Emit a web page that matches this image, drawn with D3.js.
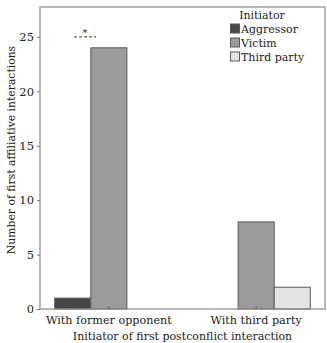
<!DOCTYPE html>
<html>
<head>
<meta charset="utf-8">
<script src="https://cdn.jsdelivr.net/npm/d3@7"></script>
<style>
  body { margin: 0; background: #fff; }
  text { font-family: "DejaVu Serif", serif; fill: #222; }
</style>
</head>
<body>
<svg id="chart"></svg>
<script>
const groups = ['With former opponent', 'With third party'];
const initiators = ['Aggressor', 'Victim', 'Third party'];
const aggressor = [1, 0];
const victim = [24, 8];
const thirdParty = [0, 2];
const yTicks = [0, 5, 10, 15, 20, 25];

const colors = { 'Aggressor': '#474747', 'Victim': '#9b9b9b', 'Third party': '#e3e3e3' };
const series = { 'Aggressor': aggressor, 'Victim': victim, 'Third party': thirdParty };

const width = 327, height = 343;
const margin = { top: 7, right: 2, bottom: 34, left: 40 };
const font = '"DejaVu Serif", serif';

const svg = d3.select('#chart').attr('width', width).attr('height', height);

const x = d3.scaleBand()
  .domain(groups)
  .range([margin.left, width - margin.right])
  .paddingInner(0.265)
  .paddingOuter(0.1);

const xSub = d3.scaleBand()
  .domain(initiators)
  .range([0, x.bandwidth()]);

const y = d3.scaleLinear()
  .domain([0, 27.75])
  .range([height - margin.bottom, margin.top]);

// bars
const rows = [];
groups.forEach((g, i) => {
  initiators.forEach(k => {
    if (series[k][i] > 0) rows.push({ group: g, key: k, value: series[k][i] });
  });
});

svg.append('g')
  .selectAll('rect')
  .data(rows)
  .join('rect')
  .attr('x', d => x(d.group) + xSub(d.key))
  .attr('y', d => y(d.value))
  .attr('width', xSub.bandwidth())
  .attr('height', d => y(0) - y(d.value))
  .attr('fill', d => colors[d.key])
  .attr('stroke', '#5a5a5a')
  .attr('stroke-width', 1);

// frame
svg.append('rect')
  .attr('x', margin.left)
  .attr('y', margin.top)
  .attr('width', width - margin.right - margin.left)
  .attr('height', y(0) - margin.top)
  .attr('fill', 'none')
  .attr('stroke', '#8a8a8a')
  .attr('stroke-width', 1.2);

// y axis
const yAxis = svg.append('g')
  .attr('transform', `translate(${margin.left},0)`)
  .call(d3.axisLeft(y).tickValues(yTicks).tickSize(3).tickPadding(3));
yAxis.select('.domain').remove();
yAxis.selectAll('line').attr('stroke', '#777');
yAxis.selectAll('text').style('font-family', font).style('font-size', '11.5px').attr('fill', '#222');

// x axis
const xAxis = svg.append('g')
  .attr('transform', `translate(0,${y(0)})`)
  .call(d3.axisBottom(x).tickSizeInner(-3).tickSizeOuter(0).tickPadding(7));
xAxis.select('.domain').remove();
xAxis.selectAll('line').attr('stroke', '#666');
xAxis.selectAll('text').style('font-family', font).style('font-size', '11.2px').attr('fill', '#222');

// axis titles
svg.append('text')
  .attr('x', (margin.left + width - margin.right) / 2)
  .attr('y', 340)
  .attr('text-anchor', 'middle')
  .style('font-size', '11px')
  .text('Initiator of first postconflict interaction');

svg.append('text')
  .attr('transform', 'translate(15,150) rotate(-90)')
  .attr('text-anchor', 'middle')
  .style('font-size', '10.8px')
  .text('Number of first affiliative interactions');

// significance marker
const sigX = x(groups[0]) + xSub('Aggressor') + xSub.bandwidth() * 0.84;
svg.append('line')
  .attr('x1', sigX - 11).attr('x2', sigX + 11)
  .attr('y1', y(25)).attr('y2', y(25))
  .attr('stroke', '#333')
  .attr('stroke-dasharray', '3,2');
svg.append('text')
  .attr('x', sigX)
  .attr('y', y(25) - 1)
  .attr('text-anchor', 'middle')
  .style('font-size', '10px')
  .text('*');

// legend
const legend = svg.append('g').attr('transform', 'translate(230,19)');
legend.append('text')
  .attr('x', 32)
  .attr('y', 0)
  .attr('text-anchor', 'middle')
  .style('font-size', '11px')
  .text('Initiator');
initiators.forEach((k, i) => {
  const row = legend.append('g').attr('transform', `translate(0,${14 + i * 14})`);
  row.append('rect')
    .attr('x', 0.5).attr('y', -9)
    .attr('width', 9).attr('height', 9)
    .attr('fill', colors[k])
    .attr('stroke', '#5a5a5a');
  row.append('text')
    .attr('x', 11)
    .attr('y', 0)
    .style('font-size', '11px')
    .text(k);
});
</script>
</body>
</html>
